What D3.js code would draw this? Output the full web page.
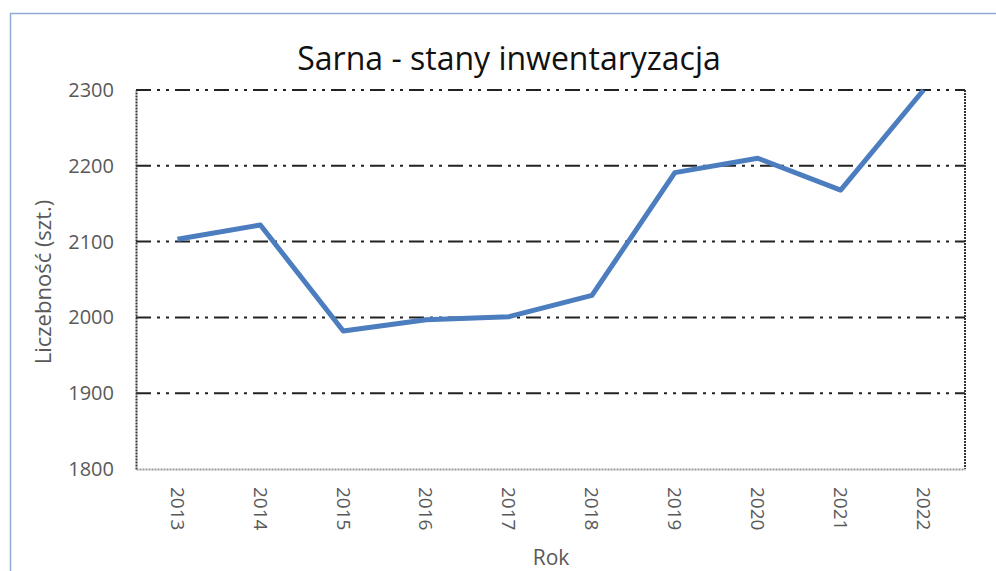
<!DOCTYPE html>
<html>
<head>
<meta charset="utf-8">
<script src="https://cdn.jsdelivr.net/npm/d3@7.9.0/dist/d3.min.js"></script>
<style>
  body { margin: 0; background: #fff; }
  text { font-family: "Open Sans", sans-serif; }
</style>
</head>
<body>
<div id="chart"></div>
<script>
// chart data
const years = ["2013", "2014", "2015", "2016", "2017", "2018", "2019", "2020", "2021", "2022"];
const counts = [2103, 2122, 1982, 1997, 2001, 2029, 2191, 2210, 2168, 2300];
const yTicks = [1800, 1900, 2000, 2100, 2200, 2300];

const width = 996, height = 571;
const margin = { top: 90, right: 31, bottom: 102, left: 136 };

const svg = d3.select("#chart")
    .append("svg")
    .attr("width", width)
    .attr("height", height);

// outer chart frame
svg.append("rect")
    .attr("x", 10.5).attr("y", 13.5)
    .attr("width", 1000).attr("height", 600)
    .attr("fill", "none")
    .attr("stroke", "#8eaad6")
    .attr("stroke-width", 1.5);

const x = d3.scaleBand()
    .domain(years)
    .range([margin.left, width - margin.right])
    .paddingInner(0).paddingOuter(0);

const y = d3.scaleLinear()
    .domain([1800, 2300])
    .range([height - margin.bottom, margin.top]);

// title
svg.append("text")
    .attr("x", 509).attr("y", 70)
    .attr("text-anchor", "middle")
    .attr("font-size", 32)
    .attr("fill", "#111")
    .text("Sarna - stany inwentaryzacja");

// gridlines (dash-dot-dot)
svg.append("g")
    .selectAll("line")
    .data(yTicks.filter(d => d > 1800))
    .enter().append("line")
    .attr("x1", margin.left).attr("x2", width - margin.right)
    .attr("y1", d => y(d)).attr("y2", d => y(d))
    .attr("stroke", "#222")
    .attr("stroke-width", 2)
    .attr("stroke-dasharray", "15,6,3,6,3,6");

// y axis (dotted)
const yAxis = svg.append("g")
    .attr("transform", `translate(${margin.left},0)`)
    .call(d3.axisLeft(y).tickValues(yTicks).tickFormat(d3.format("d")).tickSize(0).tickPadding(22));
yAxis.select(".domain")
    .attr("stroke", "#333").attr("stroke-width", 2).attr("stroke-dasharray", "2,1");
yAxis.selectAll("text")
    .attr("font-size", 20).attr("fill", "#595959")
    .attr("font-family", "Open Sans, sans-serif");

// right border (dotted)
svg.append("line")
    .attr("x1", width - margin.right).attr("x2", width - margin.right)
    .attr("y1", margin.top).attr("y2", height - margin.bottom)
    .attr("stroke", "#333").attr("stroke-width", 2).attr("stroke-dasharray", "2,1");

// x axis
const xAxis = svg.append("g")
    .attr("transform", `translate(0,${height - margin.bottom})`)
    .call(d3.axisBottom(x).tickSize(0).tickPadding(0));
xAxis.select(".domain")
    .attr("stroke", "#999").attr("stroke-width", 2).attr("stroke-dasharray", "2,1");
xAxis.selectAll("text")
    .attr("font-size", 19).attr("fill", "#595959")
    .attr("font-family", "Open Sans, sans-serif")
    .attr("text-anchor", "start")
    .attr("dy", "0.35em")
    .attr("transform", "translate(0,18) rotate(90)");

// line
const line = d3.line()
    .x((d, i) => x(years[i]) + x.bandwidth() / 2)
    .y(d => y(d));

svg.append("path")
    .datum(counts)
    .attr("fill", "none")
    .attr("stroke", "#4c7dbf")
    .attr("stroke-width", 5)
    .attr("stroke-linejoin", "round")
    .attr("d", line);

// axis titles
svg.append("text")
    .attr("transform", "translate(51,282) rotate(-90)")
    .attr("text-anchor", "middle")
    .attr("font-size", 22)
    .attr("fill", "#595959")
    .text("Liczebność (szt.)");

svg.append("text")
    .attr("x", 551).attr("y", 565)
    .attr("text-anchor", "middle")
    .attr("font-size", 21)
    .attr("fill", "#595959")
    .text("Rok");
</script>
</body>
</html>
